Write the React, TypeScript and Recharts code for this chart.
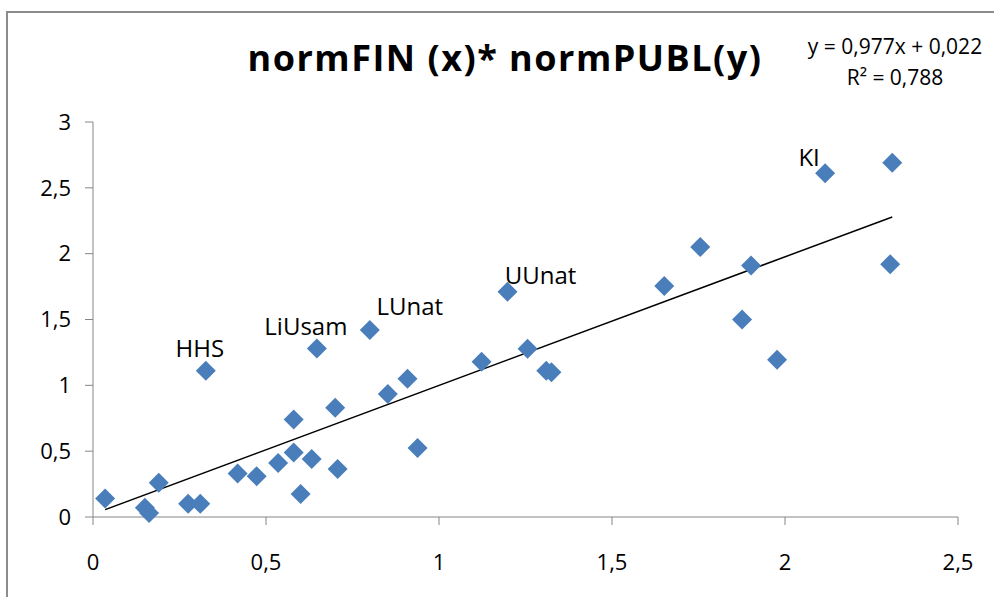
import { ScatterChart, Scatter, XAxis, YAxis, ReferenceLine, LabelList } from 'recharts';

// normFIN (x) vs normPUBL (y)
const normFin = [
    0.035, 0.15, 0.162, 0.19, 0.275, 0.31, 0.326, 0.418, 0.473, 0.535, 0.58, 0.58,
    0.60, 0.632, 0.647, 0.70, 0.707, 0.80, 0.852, 0.909, 0.938, 1.123, 1.198, 1.256,
    1.31, 1.325, 1.651, 1.755, 1.876, 1.902, 1.977, 2.116, 2.31, 2.304,
];
const normPubl = [
    0.14, 0.07, 0.03, 0.26, 0.10, 0.10, 1.11, 0.33, 0.31, 0.41, 0.74, 0.49,
    0.175, 0.44, 1.28, 0.83, 0.365, 1.42, 0.935, 1.05, 0.525, 1.18, 1.71, 1.277,
    1.11, 1.10, 1.755, 2.05, 1.50, 1.91, 1.195, 2.61, 2.69, 1.92,
];
const tags: Record<number, string> = { 6: 'HHS', 14: 'LiUsam', 17: 'LUnat', 22: 'UUnat', 31: 'KI' };

const xTicks = [0, 0.5, 1, 1.5, 2, 2.5];
const yTicks = [0, 0.5, 1, 1.5, 2, 2.5, 3];

const slope = 0.977;
const intercept = 0.022;

// where each tag sits relative to its point (px)
const tagOffset: Record<string, [number, number]> = {
    HHS: [-6, -23],
    LiUsam: [-11, -23],
    LUnat: [40, -25],
    UUnat: [33, -17],
    KI: [-16, -17],
};

const points = normFin.map((x, i) => ({ x, y: normPubl[i], tag: tags[i] ?? '' }));
const xMin = Math.min(...normFin);
const xMax = Math.max(...normFin);

const FONT = '"Open Sans", "Liberation Sans", Arial, sans-serif';
const BLUE = '#4A7EBB';
const GREY = '#868686';
const comma = (v: number) => String(v).replace('.', ',');

function Diamond(props: any) {
    const { cx, cy } = props;
    const r = 10;
    return <polygon points={`${cx},${cy - r} ${cx + r},${cy} ${cx},${cy + r} ${cx - r},${cy}`} fill={BLUE} />;
}

function Tag(props: any) {
    const { x, y, width, height, value } = props;
    if (!value) return null;
    const [dx, dy] = tagOffset[value];
    const cx = x + width / 2 + dx;
    const cy = y + height / 2 + dy;
    return (
        <text x={cx} y={cy} textAnchor="middle" dominantBaseline="central" fontSize={24} fontFamily={FONT} fill="#000">
            {value}
        </text>
    );
}

export default function App() {
    return (
        <div style={{ position: 'absolute', left: 0, top: 0, width: 994, height: 597, background: '#fff', fontFamily: FONT }}>
            <div style={{ position: 'absolute', left: 6, top: 11, width: 1000, height: 600, borderLeft: `2px solid #8c8c8c`, borderTop: `2px solid #8c8c8c` }} />
            <ScatterChart width={994} height={597} margin={{ top: 122, right: 36, bottom: 40, left: 33 }} style={{ position: 'absolute', left: 0, top: 0 }}>
                <XAxis
                    type="number"
                    dataKey="x"
                    domain={[0, 2.5]}
                    ticks={xTicks}
                    tickFormatter={comma}
                    height={40}
                    stroke={GREY}
                    tickSize={8}
                    tickMargin={29}
                    tick={{ fill: '#000', fontSize: 22, fontFamily: FONT }}
                />
                <YAxis
                    type="number"
                    dataKey="y"
                    domain={[0, 3]}
                    ticks={yTicks}
                    tickFormatter={comma}
                    width={60}
                    stroke={GREY}
                    tickSize={8}
                    tickMargin={14}
                    tick={{ fill: '#000', fontSize: 22, fontFamily: FONT }}
                />
                <ReferenceLine
                    segment={[
                        { x: xMin, y: slope * xMin + intercept },
                        { x: xMax, y: slope * xMax + intercept },
                    ]}
                    stroke="#000"
                    strokeWidth={1.5}
                    ifOverflow="visible"
                />
                <Scatter data={points} shape={<Diamond />} isAnimationActive={false}>
                    <LabelList dataKey="tag" content={<Tag />} />
                </Scatter>
                <text x={505} y={57} textAnchor="middle" dominantBaseline="central" fontSize={36} fontWeight="bold" letterSpacing={1.5} fontFamily={FONT} fill="#000">
                    normFIN (x)* normPUBL(y)
                </text>
                <text x={895} y={46} textAnchor="middle" dominantBaseline="central" fontSize={21} fontFamily={FONT} fill="#000">
                    y = 0,977x + 0,022
                </text>
                <text x={895} y={77} textAnchor="middle" dominantBaseline="central" fontSize={21} fontFamily={FONT} fill="#000">
                    R² = 0,788
                </text>
            </ScatterChart>
        </div>
    );
}
